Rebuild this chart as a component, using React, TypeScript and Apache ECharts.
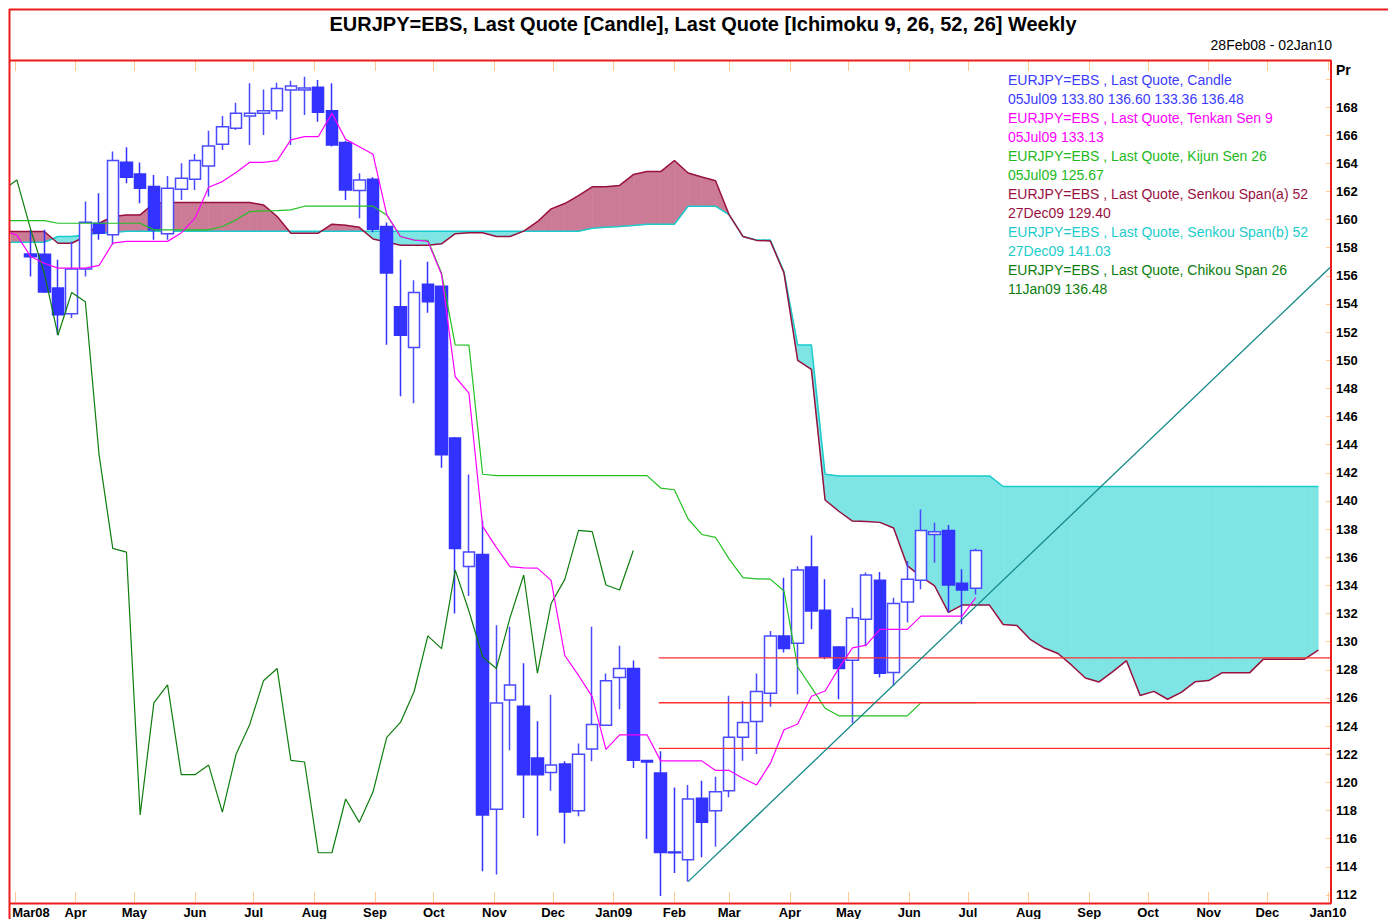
import React, { useEffect, useRef } from "react";
import * as echarts from "echarts";

const TITLE = "EURJPY=EBS, Last Quote [Candle], Last Quote [Ichimoku 9, 26, 52, 26] Weekly";
const DATE_RANGE = "28Feb08 - 02Jan10";
const X_MIN = "2008-02-28";
const X_MAX = "2010-01-02";
const LINE_START = "2008-02-24"; // first weekly point of the indicator lines
const CANDLE_START = "2008-03-09"; // first weekly candle

const monthTicks = [
  "2008-03-01", "2008-04-01", "2008-05-01", "2008-06-01", "2008-07-01", "2008-08-01",
  "2008-09-01", "2008-10-01", "2008-11-01", "2008-12-01", "2009-01-01", "2009-02-01",
  "2009-03-01", "2009-04-01", "2009-05-01", "2009-06-01", "2009-07-01", "2009-08-01",
  "2009-09-01", "2009-10-01", "2009-11-01", "2009-12-01", "2010-01-01",
];
const priceTicks = [112, 114, 116, 118, 120, 122, 124, 126, 128, 130, 132, 134, 136, 138, 140, 142, 144, 146, 148, 150, 152, 154, 156, 158, 160, 162, 164, 166, 168, 170];
const priceLabels = [112, 114, 116, 118, 120, 122, 124, 126, 128, 130, 132, 134, 136, 138, 140, 142, 144, 146, 148, 150, 152, 154, 156, 158, 160, 162, 164, 166, 168];
const Y_MIN = 111.5;
const Y_MAX = 171.27;

// weekly candles from 09Mar08 to 05Jul09
const candleOpen = [
  157.55, 157.54, 155.13, 153.31, 156.48, 159.74, 158.92, 164.07, 163.24, 162.35,
  158.99, 162.16, 162.87, 163.81, 165.35, 166.49, 167.36, 167.55, 167.74, 169.21,
  169.21, 169.4, 167.74, 165.47, 162.06, 162.87, 159.51, 153.81, 150.91, 155.4,
  155.26, 144.48, 135.35, 136.2, 118.09, 125.86, 125.42, 121.74, 120.7, 121.31,
  117.98, 122.38, 124.06, 127.45, 128.09, 121.55, 120.66, 115.05, 114.51, 118.87,
  117.99, 119.41, 123.2, 124.33, 126.34, 130.41, 129.89, 135.3, 132.23, 129.63,
  128.68, 131.59, 134.36, 127.81, 132.82, 134.36, 137.62, 137.91, 134.15, 133.8,
];
const candleHigh = [
  159.27, 159.27, 157.14, 158.44, 161.28, 161.87, 164.83, 165.14, 164.05, 163.17,
  163.1, 164.0, 164.66, 166.32, 167.36, 168.31, 169.68, 169.25, 169.73, 169.87,
  170.15, 169.92, 169.68, 165.6, 163.29, 163.0, 159.8, 157.14, 155.69, 157.0,
  155.3, 144.54, 141.88, 138.6, 131.16, 131.07, 128.47, 124.35, 126.23, 121.5,
  122.76, 131.07, 127.74, 129.71, 128.67, 121.57, 122.22, 119.63, 119.81, 120.12,
  120.4, 126.15, 125.79, 127.74, 130.76, 134.55, 135.37, 137.55, 134.43, 129.7,
  132.42, 134.91, 134.95, 133.13, 135.73, 139.4, 138.45, 138.3, 135.14, 136.6,
];
const candleLow = [
  155.96, 154.78, 151.8, 153.0, 155.96, 158.56, 158.21, 162.58, 161.16, 158.56,
  158.56, 161.4, 162.11, 161.64, 164.95, 166.37, 165.3, 166.01, 167.12, 165.3,
  167.43, 166.96, 165.2, 161.4, 160.1, 159.1, 151.1, 147.44, 146.94, 153.38,
  142.36, 132.0, 133.25, 113.69, 113.46, 122.29, 117.47, 116.21, 119.4, 115.66,
  117.6, 121.5, 124.0, 125.19, 121.02, 116.0, 111.93, 113.56, 112.95, 114.68,
  115.43, 118.94, 121.53, 122.01, 125.37, 129.23, 126.27, 130.88, 128.75, 125.91,
  124.21, 129.7, 127.45, 126.86, 131.36, 133.72, 135.61, 132.07, 131.24, 133.36,
];
const candleClose = [
  157.35, 154.85, 153.24, 156.48, 159.81, 159.03, 164.19, 163.01, 162.23, 159.27,
  162.23, 162.94, 164.19, 165.23, 166.6, 167.55, 167.55, 167.74, 169.32, 169.49,
  169.35, 167.62, 165.3, 162.11, 162.82, 159.32, 156.2, 151.78, 154.82, 154.16,
  143.29, 136.63, 136.37, 117.68, 125.65, 126.93, 120.55, 120.55, 121.23, 117.89,
  122.0, 124.12, 127.22, 128.09, 121.57, 121.45, 115.01, 115.0, 118.82, 117.16,
  119.33, 123.2, 124.26, 126.46, 130.41, 129.51, 135.09, 132.18, 128.92, 128.09,
  131.71, 134.74, 127.76, 132.71, 134.43, 137.91, 137.82, 134.03, 133.67, 136.48,
];

// weekly lines from 24Feb08
const tenkanSen = [
  159.2, 158.9, 157.38, 156.9, 156.55, 156.55, 156.55, 156.74, 158.32, 158.45,
  158.45, 158.45, 158.45, 159.05, 160.1, 162.3, 162.7, 163.34, 164.07, 164.07,
  164.19, 165.66, 165.89, 165.89, 167.55, 165.7, 165.18, 164.64, 160.35, 158.8,
  158.55, 158.45, 156.1, 148.83, 147.67, 138.2, 136.7, 135.33, 135.25, 135.23,
  134.36, 129.02, 127.6, 126.1, 122.35, 123.38, 123.38, 123.38, 121.53, 121.53,
  121.53, 121.53, 120.85, 120.85, 120.3, 119.82, 121.35, 123.74, 124.15, 126.12,
  126.5, 128.1, 129.56, 129.75, 130.88, 130.88, 130.88, 131.82, 131.82, 131.82,
  131.82, 133.13,
];
const kijunSen = [
  159.93, 159.93, 159.93, 159.93, 159.74, 159.74, 159.74, 159.74, 159.74, 159.74,
  159.74, 159.27, 159.27, 159.27, 159.27, 159.27, 159.51, 159.98, 160.57, 160.62,
  160.64, 160.69, 160.95, 160.95, 160.95, 160.95, 160.95, 160.95, 160.33, 158.8,
  158.53, 158.53, 156.2, 151.1, 151.08, 141.9, 141.8, 141.8, 141.8, 141.8,
  141.8, 141.8, 141.8, 141.8, 141.8, 141.8, 141.8, 141.8, 140.92, 140.8,
  138.72, 137.62, 137.42, 135.87, 134.55, 134.47, 134.45, 133.6, 128.2, 126.75,
  125.27, 124.73, 124.73, 124.73, 124.73, 124.73, 124.73, 125.67, 125.67, 125.67,
  125.67, 125.67,
];
const chikouSpan = [
  162.11, 162.82, 159.32, 156.2, 151.78, 154.82, 154.16, 143.29, 136.63, 136.37,
  117.68, 125.65, 126.93, 120.55, 120.55, 121.23, 117.89, 122.0, 124.12, 127.22,
  128.09, 121.57, 121.45, 115.01, 115.0, 118.82, 117.16, 119.33, 123.2, 124.26,
  126.46, 130.41, 129.51, 135.09, 132.18, 128.92, 128.09, 131.71, 134.74, 127.76,
  132.71, 134.43, 137.91, 137.82, 134.03, 133.67, 136.48,
];
const senkouSpanA = [
  159.15, 159.15, 159.15, 159.15, 158.32, 158.32, 158.8, 159.74, 160.22, 160.33,
  160.33, 161.16, 161.21, 161.21, 161.21, 161.21, 161.21, 161.21, 161.21, 161.04,
  160.22, 159.03, 159.03, 159.03, 159.67, 159.6, 159.45, 158.62, 158.4, 158.18,
  158.18, 158.18, 158.28, 159.0, 159.07, 159.07, 158.8, 158.8, 159.18, 159.85,
  160.76, 161.14, 161.7, 162.33, 162.34, 162.43, 163.2, 163.41, 163.41, 164.2,
  163.31, 163.03, 162.76, 160.33, 158.8, 158.52, 158.48, 156.2, 150.0, 149.35,
  140.07, 139.27, 138.57, 138.55, 138.48, 138.08, 135.4, 134.63, 133.96, 132.08,
  132.6, 132.6, 132.6, 131.22, 131.15, 130.14, 129.55, 129.16, 128.33, 127.42,
  127.14, 127.87, 128.65, 126.18, 126.47, 125.91, 126.4, 127.15, 127.24, 127.8,
  127.8, 127.8, 128.76, 128.76, 128.76, 128.76, 129.4,
];
const senkouSpanB = [
  158.39, 158.39, 158.39, 158.39, 158.8, 158.8, 158.92, 159.03, 159.08, 159.17,
  159.17, 159.17, 159.17, 159.17, 159.17, 159.17, 159.17, 159.17, 159.17, 159.17,
  159.17, 159.17, 159.17, 159.17, 159.17, 159.17, 159.17, 159.17, 159.17, 159.17,
  159.17, 159.17, 159.17, 159.17, 159.17, 159.17, 159.17, 159.17, 159.17, 159.17,
  159.17, 159.17, 159.17, 159.39, 159.45, 159.5, 159.58, 159.67, 159.67, 159.67,
  160.95, 160.95, 160.95, 160.34, 158.8, 158.55, 158.55, 156.28, 151.08, 151.08,
  141.9, 141.78, 141.78, 141.78, 141.78, 141.78, 141.78, 141.78, 141.78, 141.78,
  141.78, 141.78, 141.78, 141.03, 141.03, 141.03, 141.03, 141.03, 141.03, 141.03,
  141.03, 141.03, 141.03, 141.03, 141.03, 141.03, 141.03, 141.03, 141.03, 141.03,
  141.03, 141.03, 141.03, 141.03, 141.03, 141.03, 141.03,
];

const levelStart = "2009-01-24";
const levelEnd = "2010-01-02";
const horizontalLevels = [128.85, 125.66, 122.42];
const trendDates = ["2009-02-08", "2010-01-02"];
const trendValues = [112.95, 156.6];

const legendLines = [
  { text: "EURJPY=EBS , Last Quote, Candle", color: "#3b3bff" },
  { text: "05Jul09 133.80 136.60 133.36 136.48", color: "#3b3bff" },
  { text: "EURJPY=EBS , Last Quote, Tenkan Sen 9", color: "#ff00ff" },
  { text: "05Jul09 133.13", color: "#ff00ff" },
  { text: "EURJPY=EBS , Last Quote, Kijun Sen 26", color: "#22b922" },
  { text: "05Jul09 125.67", color: "#22b922" },
  { text: "EURJPY=EBS , Last Quote, Senkou Span(a) 52", color: "#99123f" },
  { text: "27Dec09 129.40", color: "#99123f" },
  { text: "EURJPY=EBS , Last Quote, Senkou Span(b) 52", color: "#1ccccc" },
  { text: "27Dec09 141.03", color: "#1ccccc" },
  { text: "EURJPY=EBS , Last Quote, Chikou Span 26", color: "#0d7d0d" },
  { text: "11Jan09 136.48", color: "#0d7d0d" },
];

const MONTHS = ["Jan", "Feb", "Mar", "Apr", "May", "Jun", "Jul", "Aug", "Sep", "Oct", "Nov", "Dec"];
const DAY = 86400000;
const FONT = "'Liberation Sans', Arial, Helvetica, sans-serif";
const MAUVE = "#cc7b96";
const CYAN = "#7fe4e4";
const RED = "#ee1c1c";
const TICK = "#ffc891";

function ts(s: string): number {
  const [y, m, d] = s.split("-").map(Number);
  return Date.UTC(y, m - 1, d);
}

export default function App() {
  const ref = useRef<HTMLDivElement>(null);

  useEffect(() => {
    if (!ref.current) return;
    const chart = echarts.init(ref.current, undefined, { renderer: "svg" });

    const lineStart = ts(LINE_START);
    const candleStart = ts(CANDLE_START);
    const wk = (base: number, i: number) => base + i * 7 * DAY;

    const candleData = candleOpen.map((o, i) => [wk(candleStart, i), o, candleClose[i], candleLow[i], candleHigh[i]]);
    const toLine = (arr: number[]) => arr.map((v, i) => [wk(lineStart, i), v]);

    const cloudData: number[][] = [];
    for (let i = 0; i < senkouSpanA.length - 1; i++) {
      cloudData.push([
        wk(lineStart, i), senkouSpanA[i], senkouSpanB[i],
        wk(lineStart, i + 1), senkouSpanA[i + 1], senkouSpanB[i + 1],
      ]);
    }

    const firstTick = ts(monthTicks[0]);
    const tickValues = monthTicks.map(ts);

    const plainLine = (name: string, data: any[], color: string, width: number, z: number) => ({
      name,
      type: "line",
      data,
      showSymbol: false,
      symbol: "none",
      silent: true,
      z,
      lineStyle: { color, width },
      emphasis: { disabled: true },
    });

    const levelSeries = horizontalLevels.map((v, i) =>
      plainLine("level" + i, [[ts(levelStart), v], [ts(levelEnd), v]], "#ff3030", 1.3, 6)
    );

    const graphics: any[] = [
      { type: "line", shape: { x1: 9, y1: 9.5, x2: 1388, y2: 9.5 }, style: { stroke: RED, lineWidth: 2 }, z: 50 },
      { type: "line", shape: { x1: 9.5, y1: 9, x2: 9.5, y2: 919 }, style: { stroke: RED, lineWidth: 2 }, z: 50 },
      { type: "line", shape: { x1: 9, y1: 60.5, x2: 1331.5, y2: 60.5 }, style: { stroke: RED, lineWidth: 2 }, z: 50 },
      { type: "line", shape: { x1: 9, y1: 903.5, x2: 1331.5, y2: 903.5 }, style: { stroke: RED, lineWidth: 2 }, z: 50 },
      { type: "line", shape: { x1: 1331, y1: 60.5, x2: 1331, y2: 903.5 }, style: { stroke: RED, lineWidth: 2 }, z: 50 },
      {
        type: "text", x: 703, y: 24, z: 50,
        style: { text: TITLE, fill: "#000", font: `bold 20px ${FONT}`, textAlign: "center", textVerticalAlign: "middle", align: "center", verticalAlign: "middle" },
      },
      {
        type: "text", x: 1332, y: 45, z: 50,
        style: { text: DATE_RANGE, fill: "#000", font: `14px ${FONT}`, textAlign: "right", textVerticalAlign: "middle", align: "right", verticalAlign: "middle" },
      },
      {
        type: "text", x: 1336, y: 70, z: 50,
        style: { text: "Pr", fill: "#000", font: `bold 14px ${FONT}`, textAlign: "left", textVerticalAlign: "middle", align: "left", verticalAlign: "middle" },
      },
      ...legendLines.map((l, i) => ({
        type: "text", x: 1008, y: 80 + i * 19, z: 50,
        style: { text: l.text, fill: l.color, font: `14px ${FONT}`, textAlign: "left", textVerticalAlign: "middle", align: "left", verticalAlign: "middle" },
      })),
    ];

    const option: any = {
      animation: false,
      backgroundColor: "#ffffff",
      grid: { left: 11, right: 58, top: 61, bottom: 16, containLabel: false },
      xAxis: [
        {
          type: "value",
          min: ts(X_MIN),
          max: ts(X_MAX),
          position: "bottom",
          splitLine: { show: false },
          axisLine: { show: false },
          axisTick: { show: true, inside: true, length: 10, customValues: tickValues, lineStyle: { color: TICK, width: 1 } },
          axisLabel: {
            show: true,
            customValues: tickValues,
            margin: 4,
            color: "#000",
            fontFamily: FONT,
            fontWeight: "bold",
            fontSize: 13,
            formatter: (v: number) => {
              const d = new Date(v);
              const m = d.getUTCMonth();
              const yy = String(d.getUTCFullYear()).slice(2);
              if (Math.abs(v - firstTick) < DAY) return `{first|${MONTHS[m]}${yy}}`;
              return m === 0 ? MONTHS[m] + yy : MONTHS[m];
            },
            rich: {
              first: { padding: [0, 0, 0, 32], color: "#000", fontFamily: FONT, fontWeight: "bold", fontSize: 13 },
            },
          },
        },
        {
          type: "value",
          min: ts(X_MIN),
          max: ts(X_MAX),
          position: "top",
          splitLine: { show: false },
          axisLine: { show: false },
          axisTick: { show: true, inside: true, length: 10, customValues: tickValues, lineStyle: { color: TICK, width: 1 } },
          axisLabel: { show: false },
        },
      ],
      yAxis: {
        type: "value",
        position: "right",
        min: Y_MIN,
        max: Y_MAX,
        splitLine: { show: false },
        axisLine: { show: false },
        axisTick: { show: true, inside: true, length: 4, customValues: priceTicks, lineStyle: { color: TICK, width: 1 } },
        axisLabel: {
          customValues: priceLabels,
          margin: 6,
          color: "#000",
          fontFamily: FONT,
          fontWeight: "bold",
          fontSize: 13,
        },
      },
      series: [
        {
          name: "cloud",
          type: "custom",
          clip: true,
          silent: true,
          z: 1,
          dimensions: ["x0", "a0", "b0", "x1", "a1", "b1"],
          encode: { x: [0, 3], y: [1, 2, 4, 5] },
          data: cloudData,
          renderItem: (params: any, api: any) => {
            const x0 = api.value(0), a0 = api.value(1), b0 = api.value(2);
            const x1 = api.value(3), a1 = api.value(4), b1 = api.value(5);
            const d0 = a0 - b0, d1 = a1 - b1;
            const P = (x: number, v: number) => api.coord([x, v]);
            const col = (d: number) => (d >= 0 ? MAUVE : CYAN);
            const children: any[] = [];
            const poly = (pts: number[][], c: string) =>
              children.push({ type: "polygon", shape: { points: pts }, style: { fill: c, stroke: c, lineWidth: 0.6 } });
            if (d0 * d1 < 0) {
              const t = d0 / (d0 - d1);
              const xc = x0 + t * (x1 - x0);
              const vc = a0 + t * (a1 - a0);
              poly([P(x0, a0), P(xc, vc), P(x0, b0)], col(d0));
              poly([P(xc, vc), P(x1, a1), P(x1, b1)], col(d1));
            } else {
              poly([P(x0, a0), P(x1, a1), P(x1, b1), P(x0, b0)], col(d0 + d1));
            }
            return { type: "group", children };
          },
        },
        plainLine("Senkou Span(b) 52", toLine(senkouSpanB), "#1ccccc", 1.5, 2),
        plainLine("Senkou Span(a) 52", toLine(senkouSpanA), "#99123f", 1.5, 2),
        {
          name: "Candle",
          type: "candlestick",
          data: candleData,
          barWidth: 12,
          silent: true,
          z: 3,
          itemStyle: {
            color: "#ffffff",
            color0: "#3333ff",
            borderColor: "#4a4aff",
            borderColor0: "#3333ff",
            borderWidth: 1.5,
          },
        },
        plainLine("Chikou Span 26", toLine(chikouSpan), "#0d7d0d", 1.2, 5),
        plainLine("Kijun Sen 26", toLine(kijunSen), "#22c022", 1.2, 5),
        plainLine("Tenkan Sen 9", toLine(tenkanSen), "#ff00ff", 1.2, 5),
        ...levelSeries,
        plainLine("trend", trendDates.map((d, i) => [ts(d), trendValues[i]]), "#138888", 1.3, 6),
      ],
      graphic: graphics,
    };

    chart.setOption(option);
    return () => chart.dispose();
  }, []);

  return (
    <div
      ref={ref}
      style={{ position: "fixed", left: 0, top: 0, width: 1388, height: 919, background: "#fff" }}
    />
  );
}
